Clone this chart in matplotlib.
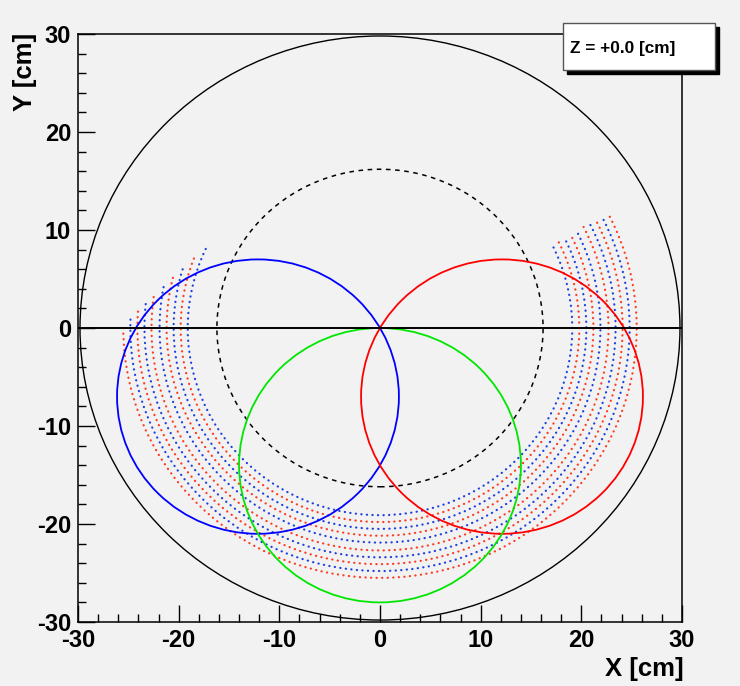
import numpy as np
import matplotlib.pyplot as plt
from matplotlib.patches import Circle, Arc, Rectangle
from matplotlib.ticker import MultipleLocator

# geometry (cm)
outer_r = 29.8
inner_r = 16.2
circle_r = 14.0
circle_cx = [-12.12, 12.12, 0.0]
circle_cy = [-7.0, -7.0, -14.0]
circle_col = ['#0000ff', '#ff0000', '#00e600']

# dotted arcs around the origin, inner one first
arc_r = [19.1, 19.8, 20.5, 21.2, 21.9, 22.7, 23.4, 24.1, 24.8, 25.5]
arc_start = [155, 159, 163, 166, 169, 172, 174, 176, 178, 180]
arc_end = [27, 27, 27, 27, 27, 27, 27, 27, 27, 27]
arc_col = ['#1f3fe0', '#ff3b22'] * 5

z_label = 'Z = +0.0 [cm]'

plt.rcParams['font.family'] = ['Liberation Sans', 'DejaVu Sans']
plt.rcParams['axes.unicode_minus'] = False
bg = '#f2f2f2'

fig = plt.figure(figsize=(7.4, 6.86), dpi=100, facecolor=bg)
ax = fig.add_axes([0.1054, 0.0933, 0.8162, 0.8571], facecolor=bg)
ax.set_xlim(-30, 30)
ax.set_ylim(-30, 30)

ax.add_patch(Circle((0, 0), outer_r, fill=False, ec='black', lw=1.0))
ax.add_patch(Circle((0, 0), inner_r, fill=False, ec='black', lw=1.1,
                    linestyle=(0, (3, 3))))
ax.plot([-30, 30], [0, 0], color='black', lw=1.4)

for r, a0, a1, c in zip(arc_r, arc_start, arc_end, arc_col):
    ax.add_patch(Arc((0, 0), 2 * r, 2 * r, theta1=a0, theta2=a1, color=c,
                     lw=1.6, linestyle=(0, (0.1, 2.4)), capstyle='round'))

for cx, cy, c in zip(circle_cx, circle_cy, circle_col):
    ax.add_patch(Circle((cx, cy), circle_r, fill=False, ec=c, lw=1.3))

ax.xaxis.set_major_locator(MultipleLocator(10))
ax.xaxis.set_minor_locator(MultipleLocator(2))
ax.yaxis.set_major_locator(MultipleLocator(10))
ax.yaxis.set_minor_locator(MultipleLocator(2))
ax.tick_params(which='both', direction='in', top=False, right=False,
               width=1.0, color='black')
ax.tick_params(which='major', length=12, pad=5, labelsize=17)
ax.tick_params(which='minor', length=5.5)
for lab in ax.get_xticklabels() + ax.get_yticklabels():
    lab.set_fontweight('bold')
for sp in ax.spines.values():
    sp.set_linewidth(1.1)

fig.text(684 / 740, 1 - 669 / 686, 'X [cm]', ha='right', va='center',
         fontsize=18.5, fontweight='bold')
fig.text(25 / 740, 1 - 33 / 686, 'Y [cm]', ha='center', va='top',
         rotation=90, fontsize=18.5, fontweight='bold')

# label box with drop shadow
bx, by, bw, bh = 563 / 740, 1 - 70 / 686, 152 / 740, 47 / 686
fig.add_artist(Rectangle((bx + 4 / 740, by - 4 / 686), bw, bh,
                         transform=fig.transFigure, fc='black', ec='black',
                         zorder=5))
fig.add_artist(Rectangle((bx, by), bw, bh, transform=fig.transFigure,
                         fc='white', ec='#555555', lw=1.0, zorder=6))
fig.text(570 / 740, 1 - 48 / 686, z_label, ha='left', va='center',
         fontsize=12.4, fontweight='bold', zorder=7)

fig.savefig('out.png', dpi=100, facecolor=bg)
